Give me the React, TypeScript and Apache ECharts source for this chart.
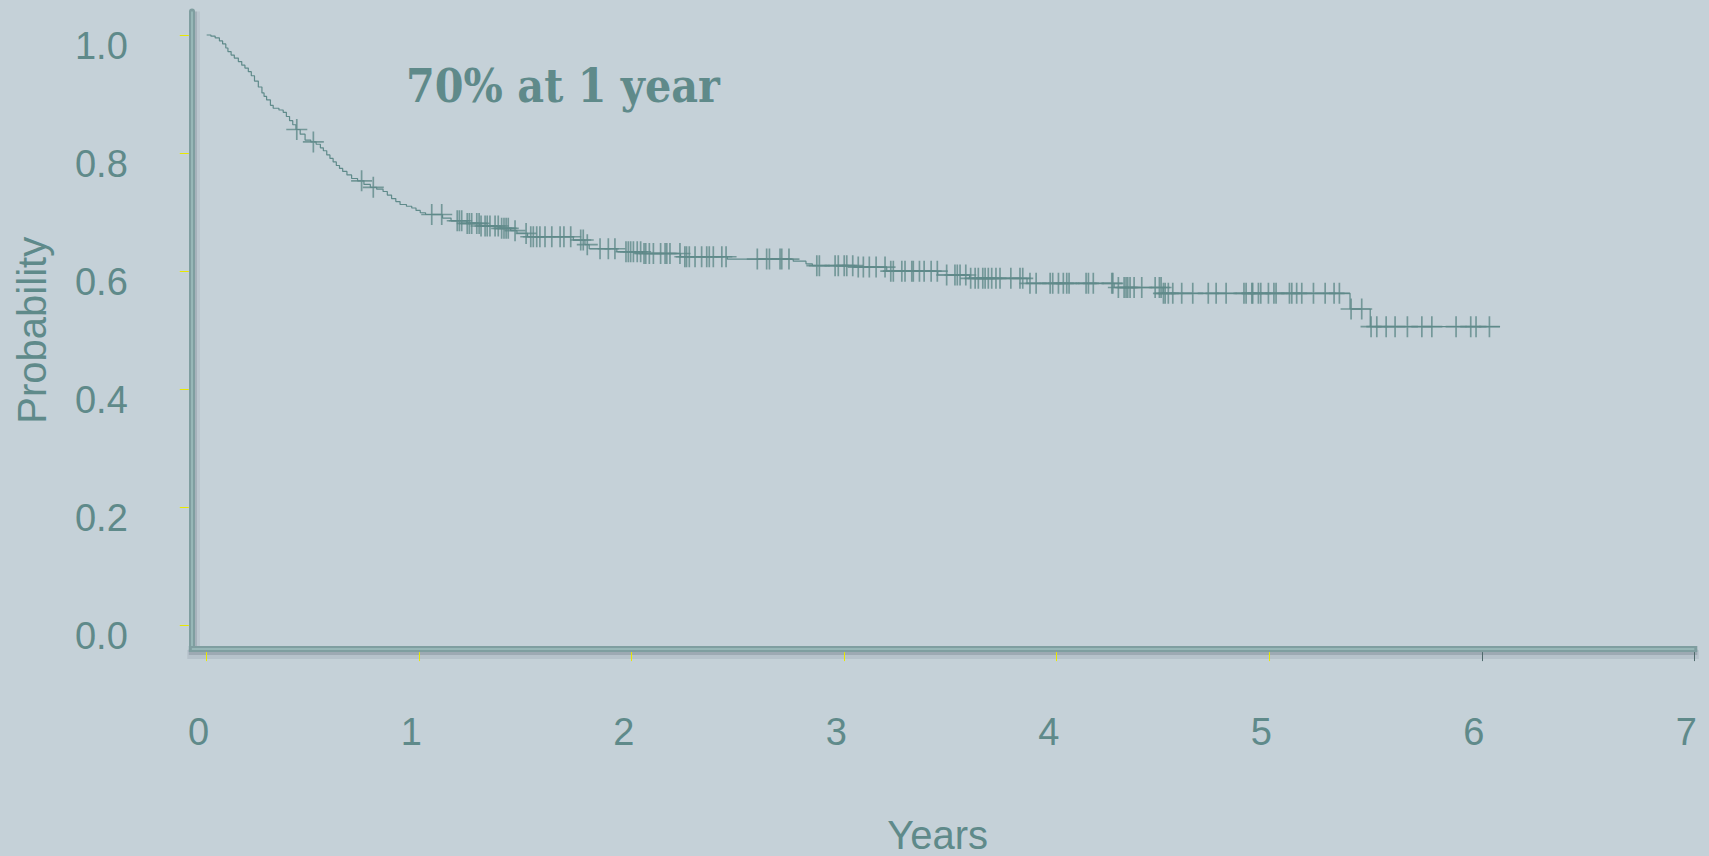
import React, { useEffect, useRef } from "react";
import * as echarts from "echarts";

// Kaplan-Meier step data (event times in years, survival probability after the event)
const eventTimes = [
  0, 0.02, 0.04, 0.06, 0.075, 0.09, 0.1, 0.115, 0.13, 0.149, 0.165, 0.18, 0.196, 0.21, 0.225,
  0.243, 0.26, 0.27, 0.282, 0.3, 0.313, 0.34, 0.36, 0.375, 0.39, 0.405, 0.42, 0.44, 0.463,
  0.49, 0.515, 0.535, 0.549, 0.565, 0.58, 0.595, 0.61, 0.625, 0.64, 0.66, 0.682, 0.71, 0.74,
  0.77, 0.8, 0.83, 0.85, 0.87, 0.89, 0.91, 0.94, 0.965, 0.985, 1.005, 1.03, 1.11, 1.15, 1.225,
  1.285, 1.38, 1.43, 1.46, 1.51, 1.725, 1.78, 1.8, 1.93, 2.05, 2.23, 2.45, 2.76, 2.82, 2.85,
  3.05, 3.2, 3.44, 3.59, 3.86, 4.27, 4.5, 5.38, 5.475,
];
const survival = [
  1.0, 0.998, 0.995, 0.99, 0.985, 0.978, 0.972, 0.966, 0.961, 0.955, 0.949, 0.944, 0.938, 0.931,
  0.922, 0.912, 0.902, 0.896, 0.89, 0.881, 0.876, 0.873, 0.869, 0.862, 0.855, 0.848, 0.84, 0.832,
  0.822, 0.819, 0.815, 0.809, 0.804, 0.797, 0.791, 0.785, 0.779, 0.774, 0.769, 0.763, 0.757,
  0.753, 0.747, 0.742, 0.739, 0.735, 0.729, 0.723, 0.718, 0.713, 0.71, 0.707, 0.703, 0.699,
  0.696, 0.69, 0.6855, 0.681, 0.6765, 0.6726, 0.6686, 0.664, 0.6584, 0.6528, 0.645, 0.638,
  0.633, 0.63, 0.6245, 0.6206, 0.617, 0.6125, 0.6093, 0.607, 0.6, 0.5936, 0.588, 0.5795, 0.5724,
  0.5626, 0.536, 0.506,
];
const lastFollowUp = 6.086;

// censoring times (years)
const censorTimes = [
  0.424, 0.502, 0.729, 0.784, 1.059, 1.106, 1.179, 1.189, 1.2, 1.226, 1.236, 1.247, 1.271,
  1.282, 1.291, 1.31, 1.32, 1.333, 1.357, 1.372, 1.388, 1.399, 1.409, 1.419, 1.451, 1.503,
  1.525, 1.537, 1.553, 1.568, 1.592, 1.624, 1.663, 1.681, 1.713, 1.76, 1.772, 1.791, 1.851,
  1.89, 1.921, 1.973, 1.984, 1.995, 2.008, 2.026, 2.042, 2.058, 2.066, 2.083, 2.102, 2.136,
  2.157, 2.165, 2.18, 2.227, 2.25, 2.258, 2.271, 2.298, 2.329, 2.353, 2.365, 2.384, 2.424,
  2.444, 2.591, 2.635, 2.648, 2.698, 2.706, 2.74, 2.871, 2.883, 2.957, 2.972, 3.0, 3.012, 3.04,
  3.066, 3.09, 3.118, 3.15, 3.192, 3.219, 3.231, 3.271, 3.286, 3.318, 3.325, 3.354, 3.376,
  3.409, 3.438, 3.482, 3.521, 3.532, 3.545, 3.572, 3.595, 3.616, 3.631, 3.652, 3.663, 3.678,
  3.694, 3.714, 3.733, 3.784, 3.827, 3.84, 3.874, 3.903, 3.969, 3.981, 4.008, 4.031, 4.047,
  4.058, 4.138, 4.149, 4.172, 4.259, 4.264, 4.29, 4.317, 4.326, 4.334, 4.345, 4.364, 4.4,
  4.463, 4.483, 4.491, 4.502, 4.51, 4.525, 4.546, 4.588, 4.64, 4.713, 4.75, 4.797, 4.881,
  4.891, 4.918, 4.922, 4.949, 4.96, 4.996, 5.022, 5.032, 5.095, 5.106, 5.129, 5.153, 5.208,
  5.263, 5.305, 5.33, 5.385, 5.435, 5.479, 5.506, 5.55, 5.592, 5.65, 5.718, 5.765, 5.879,
  5.948, 5.973, 6.036,
];

const xTickLabels = [0, 1, 2, 3, 4, 5, 6, 7];
const xTicksYellow = [0, 1, 2, 3, 4, 5];
const xTicksDark = [6, 7];
const yTickValues = [0, 0.2, 0.4, 0.6, 0.8, 1.0];
const annotation = "70% at 1 year";

const BG = "#c5d1d8";
const INK = "#5f8a8a";
const SANS = "'Liberation Sans', Arial, sans-serif";

function survivalAt(t: number): number {
  let s = 1;
  for (let i = 0; i < eventTimes.length; i++) {
    if (eventTimes[i] <= t) s = survival[i];
  }
  return s;
}

export default function App() {
  const ref = useRef<HTMLDivElement>(null);

  useEffect(() => {
    if (!ref.current) return;
    const chart = echarts.init(ref.current, null, { renderer: "svg" });

    const box = {
      left: 191.8,
      right: 14.7,
      top: 11.4,
      bottom: 206.9,
      containLabel: false,
      outerBoundsMode: "none",
    };
    const xr = { min: -0.07, max: 7 };
    const yr = { min: -0.04, max: 1.04 };

    const curve = eventTimes.map((t, i) => [t, survival[i]]);
    curve.push([lastFollowUp, survival[survival.length - 1]]);
    const censors = censorTimes.map((t) => [t, survivalAt(t)]);

    const hidden = {
      axisLine: { show: false, onZero: false },
      axisTick: { show: false },
      axisLabel: { show: false },
      splitLine: { show: false },
    };

    // decorative axis line (no tick/label), in its own grid
    const lineAxis = (gi: number, range: any, offset: number, color: string, width: number, cap = "butt") => ({
      gridIndex: gi,
      type: "value",
      ...range,
      ...hidden,
      offset,
      axisLine: { show: true, onZero: false, lineStyle: { color, width, cap } },
    });

    const option: any = {
      animation: false,
      backgroundColor: BG,
      grid: [0, 1, 2, 3, 4, 5].map(() => ({ ...box })),
      xAxis: [
        // soft shadow layers
        lineAxis(0, xr, 5, "rgba(60,72,84,0.10)", 9, "square"),
        lineAxis(1, xr, 3, "rgba(60,72,84,0.20)", 6, "square"),
        // main bar
        {
          gridIndex: 2,
          type: "value",
          ...xr,
          axisLine: {
            show: true,
            onZero: false,
            lineStyle: { color: "#7f9ea0", width: 6, cap: "square" },
          },
          axisTick: { show: false },
          splitLine: { show: false },
          axisLabel: {
            customValues: xTickLabels,
            fontSize: 38,
            color: INK,
            fontFamily: SANS,
            margin: 64,
            padding: [0, 16, 0, 0],
          },
          name: "Years",
          nameLocation: "middle",
          nameGap: 166,
          nameTextStyle: {
            fontSize: 40,
            lineHeight: 40,
            color: INK,
            fontFamily: SANS,
            padding: [0, 11, 0, 0],
          },
        },
        // highlight stripe
        lineAxis(3, xr, 0, "#97b7b7", 2),
        {
          gridIndex: 4,
          type: "value",
          ...xr,
          ...hidden,
          offset: 3,
          axisTick: {
            show: true,
            customValues: xTicksYellow,
            length: 9,
            lineStyle: { color: "#e8e800", width: 1 },
          },
        },
        {
          gridIndex: 5,
          type: "value",
          ...xr,
          ...hidden,
          offset: 3,
          axisTick: {
            show: true,
            customValues: xTicksDark,
            length: 9,
            lineStyle: { color: "#4f6a6c", width: 1 },
          },
        },
      ],
      yAxis: [
        lineAxis(0, yr, -4, "rgba(60,72,84,0.08)", 8),
        lineAxis(1, yr, -2, "rgba(60,72,84,0.16)", 6),
        {
          gridIndex: 2,
          type: "value",
          ...yr,
          axisLine: {
            show: true,
            onZero: false,
            lineStyle: { color: "#7f9ea0", width: 6 },
          },
          axisTick: { show: false },
          splitLine: { show: false },
          axisLabel: {
            customValues: yTickValues,
            formatter: (v: number) => v.toFixed(1),
            fontSize: 38,
            color: INK,
            fontFamily: SANS,
            margin: 64,
            verticalAlign: "top",
            lineHeight: 21,
          },
          name: "Probability",
          nameLocation: "middle",
          nameGap: 140,
          nameTextStyle: { fontSize: 40, color: INK, fontFamily: SANS },
        },
        lineAxis(3, yr, 0, "#97b7b7", 2),
        {
          gridIndex: 4,
          type: "value",
          ...yr,
          ...hidden,
          offset: 3,
          axisTick: {
            show: true,
            customValues: yTickValues,
            length: 9,
            lineStyle: { color: "#e8e800", width: 1 },
          },
        },
        { gridIndex: 5, type: "value", ...yr, ...hidden },
      ],
      graphic: [
        {
          type: "text",
          left: 406,
          top: 63,
          z: 10,
          style: {
            text: annotation,
            font: "bold 46px 'DejaVu Serif Condensed', 'DejaVu Serif', serif",
            fill: INK,
          },
        },
      ],
      series: [
        {
          type: "line",
          xAxisIndex: 2,
          yAxisIndex: 2,
          data: curve,
          step: "end",
          showSymbol: false,
          symbol: "none",
          lineStyle: { color: INK, width: 1.2 },
          z: 3,
        },
        {
          type: "scatter",
          xAxisIndex: 2,
          yAxisIndex: 2,
          data: censors,
          symbol: "path://M0,9.2H20V10.8H0Z M9.2,0H10.8V20H9.2Z",
          symbolSize: 21,
          itemStyle: { color: INK },
          z: 4,
        },
      ],
    };

    chart.setOption(option);
    return () => chart.dispose();
  }, []);

  return (
    <div
      ref={ref}
      style={{ position: "fixed", left: 0, top: 0, width: 1709, height: 856, background: BG }}
    />
  );
}
